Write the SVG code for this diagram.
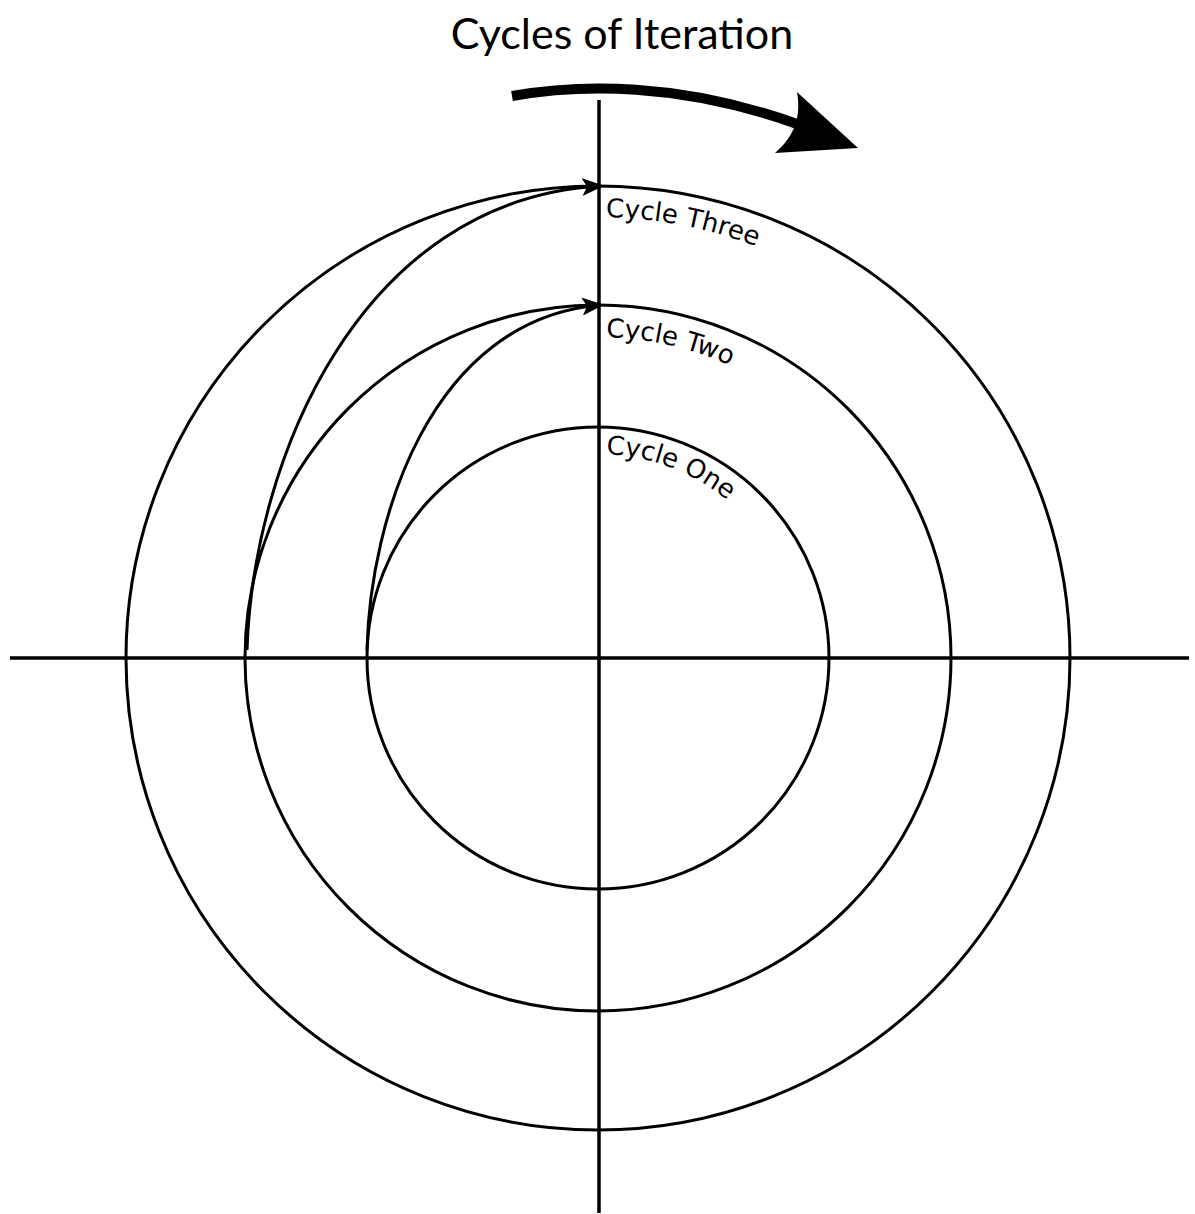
<svg xmlns="http://www.w3.org/2000/svg" width="1195" height="1214" viewBox="0 0 1195 1214">
<style>
.ring{fill:none;stroke:#000;stroke-width:3}
.axis{stroke:#000;stroke-width:3.5}
.conn{fill:none;stroke:#000;stroke-width:3}
.lbl{font-family:"DejaVu Sans",sans-serif;font-size:26px;fill:#000}
.title{font-family:Lato,"Open Sans",sans-serif;font-size:43px;fill:#000}
</style>
<defs>
<marker id="ah" viewBox="0 0 22 18" markerWidth="22" markerHeight="18" refX="18" refY="9" orient="auto" markerUnits="userSpaceOnUse">
<path d="M0,0 L22,9 L0,18 L5,9 Z" fill="#000"/>
</marker>
<path id="p3" d="M598,217 A441,441 0 0 1 1039,658"/>
<path id="p2" d="M598,337 A321,321 0 0 1 919,658"/>
<path id="p1" d="M598,454 A204,204 0 0 1 802,658"/>
</defs>
<text class="title" x="622" y="49" text-anchor="middle">Cycles of Iteration</text>
<g id="axes">
<line class="axis" x1="10" y1="658" x2="1189" y2="658"/>
<line class="axis" x1="599" y1="100" x2="599" y2="1213"/>
</g>
<g id="cycle-one">
<circle class="ring" cx="598" cy="658" r="231"/>
<text class="lbl"><textPath href="#p1" startOffset="8">Cycle One</textPath></text>
</g>
<g id="cycle-two">
<circle class="ring" cx="598" cy="658" r="353"/>
<text class="lbl"><textPath href="#p2" startOffset="8">Cycle Two</textPath></text>
</g>
<g id="cycle-three">
<circle class="ring" cx="598" cy="658" r="472"/>
<text class="lbl"><textPath href="#p3" startOffset="8">Cycle Three</textPath></text>
</g>
<g id="connectors">
<path class="conn" d="M367,650 C370,520 430,320 600,305" marker-end="url(#ah)"/>
<path class="conn" d="M247,650 C253,460 360,200 600,186" marker-end="url(#ah)"/>
<path d="M512,96 C580,84 680,82 797,124" fill="none" stroke="#000" stroke-width="10"/>
<path d="M797,92 C801,115 796,135 775,153 L858,148 Z" fill="#000"/>
</g>
</svg>
